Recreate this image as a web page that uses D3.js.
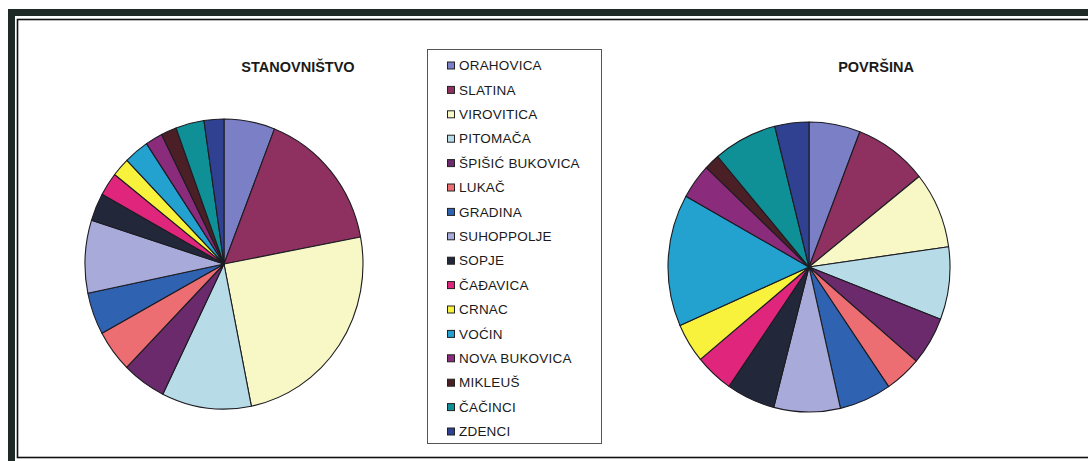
<!DOCTYPE html>
<html>
<head>
<meta charset="utf-8">
<script src="https://cdn.jsdelivr.net/npm/d3@7"></script>
<style>
  html, body { margin: 0; padding: 0; background: #fff; }
  svg { display: block; font-family: "Liberation Sans", Arial, sans-serif; }
</style>
</head>
<body>
<svg id="chart" width="1088" height="461"></svg>
<script>
// Municipalities (legend order = slice order, clockwise from 12 o'clock)
const municipalities = [
  "ORAHOVICA", "SLATINA", "VIROVITICA", "PITOMAČA", "ŠPIŠIĆ BUKOVICA",
  "LUKAČ", "GRADINA", "SUHOPPOLJE", "SOPJE", "ČAĐAVICA", "CRNAC",
  "VOĆIN", "NOVA BUKOVICA", "MIKLEUŠ", "ČAČINCI", "ZDENCI"
];

// Population (stanovništvo)
const population = [
  5520, 15030, 23160, 9710, 4760, 4390, 4390, 7560,
  2900, 2430, 1960, 2710, 1870, 1680, 3080, 2150
];

// Area in km² (površina)
const area = [
  119, 170, 172, 164, 109, 85, 121, 154,
  113, 89, 89, 298, 79, 36, 148, 79
];

const chartTitles = ["STANOVNIŠTVO", "POVRŠINA"];

const sliceColors = [
  "#7b7fc6", "#8f3160", "#f7f8c6", "#b8dbe8", "#6b2a6c",
  "#ec6e72", "#2f62b0", "#a8abda", "#23273a", "#e0267c",
  "#f8f23c", "#23a2cf", "#8a2b7c", "#4b1f26", "#0f9096", "#2f4190"
];

const svg = d3.select("#chart");

// Double frame: heavy outer rule and thin inner rule
svg.append("rect")
  .attr("x", 11.5).attr("y", 12.5)
  .attr("width", 1100).attr("height", 470)
  .attr("fill", "none").attr("stroke", "#1f2a26").attr("stroke-width", 7);
svg.append("rect")
  .attr("x", 17.5).attr("y", 19.5)
  .attr("width", 1100).attr("height", 438)
  .attr("fill", "none").attr("stroke", "#111").attr("stroke-width", 1.6);

const color = d3.scaleOrdinal().domain(municipalities).range(sliceColors);

const pie = d3.pie().sort(null).value(d => d.value);

function drawPie(values, cx, cy, rx, ry, title, tx, ty) {
  const data = municipalities.map((name, i) => ({ name, value: values[i] }));
  const arc = d3.arc().innerRadius(0).outerRadius(rx);
  const g = svg.append("g")
    .attr("transform", `translate(${cx},${cy}) scale(1,${ry / rx})`);
  g.selectAll("path")
    .data(pie(data))
    .join("path")
    .attr("d", arc)
    .attr("fill", d => color(d.data.name))
    .attr("stroke", "#1c1c22")
    .attr("stroke-width", 1.1)
    .attr("stroke-linejoin", "round")
    .attr("vector-effect", "non-scaling-stroke");

  svg.append("text")
    .attr("x", tx).attr("y", ty)
    .attr("text-anchor", "middle")
    .attr("font-size", 14.5)
    .attr("font-weight", "bold")
    .attr("fill", "#1a1a1a")
    .text(title);
}

drawPie(population, 224, 264, 139, 145, chartTitles[0], 298, 72);
drawPie(area, 809, 267, 141, 145, chartTitles[1], 876, 72);

// Legend
const legend = svg.append("g");
legend.append("rect")
  .attr("x", 427.5).attr("y", 49.5)
  .attr("width", 174).attr("height", 394)
  .attr("fill", "#fff").attr("stroke", "#555").attr("stroke-width", 1);

const rowY = d3.scalePoint().domain(municipalities).range([65.5, 431.5]);

const rows = legend.selectAll("g.row")
  .data(municipalities)
  .join("g")
  .attr("class", "row")
  .attr("transform", d => `translate(0,${rowY(d)})`);

rows.append("rect")
  .attr("x", 447.5).attr("y", -3.5)
  .attr("width", 7).attr("height", 7)
  .attr("fill", d => color(d))
  .attr("stroke", "#222").attr("stroke-width", 1);

rows.append("text")
  .attr("x", 459).attr("y", 4.6)
  .attr("font-size", 13.5)
  .attr("letter-spacing", 0.2)
  .attr("fill", "#1a1a1a")
  .text(d => d);
</script>
</body>
</html>
